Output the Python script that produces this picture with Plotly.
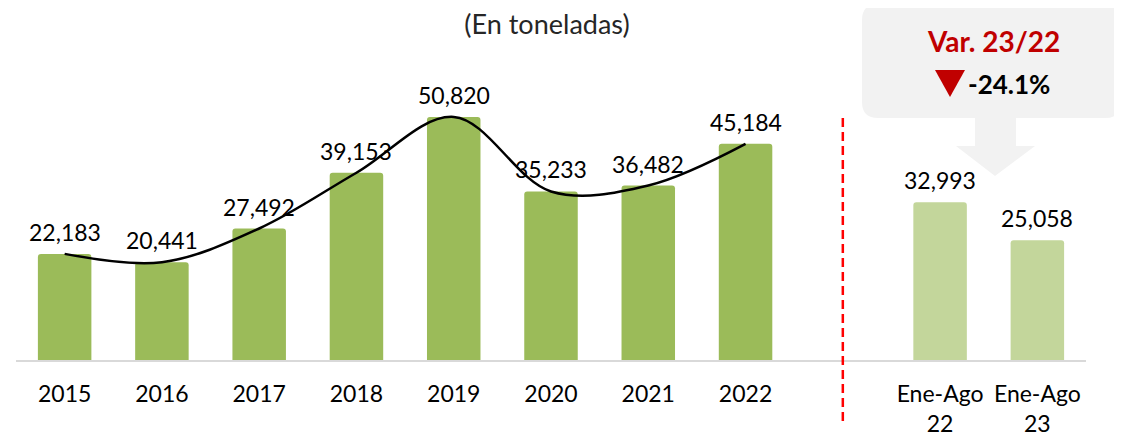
import plotly.graph_objects as go

categories = ["2015", "2016", "2017", "2018", "2019", "2020", "2021", "2022", "Ene-Ago<br>22", "Ene-Ago<br>23"]
values = [22183, 20441, 27492, 39153, 50820, 35233, 36482, 45184, 32993, 25058]
annual_count = 8
positions = [0, 1, 2, 3, 4, 5, 6, 7, 9, 10]
bar_colors = ["#9BBB59"] * 8 + ["#C3D69B"] * 2

FONT = "Lato, Open Sans, sans-serif"
OFF = 8  # page body margin in the browser
W, H = 1122 - OFF, 436 - OFF
# plot area in reference pixel coordinates
L, R, T, B = 16, 1086, 40, 360

fig = go.Figure()
fig.add_trace(go.Bar(
    x=positions, y=values, width=0.55,
    marker=dict(color=bar_colors, line=dict(width=0), cornerradius=3),
    showlegend=False, hoverinfo="skip",
))
fig.add_trace(go.Scatter(
    x=positions[:annual_count], y=values[:annual_count], mode="lines",
    line=dict(color="#000000", width=2.5, shape="spline", smoothing=1.0),
    showlegend=False, hoverinfo="skip",
))

for xp, v in zip(positions, values):
    fig.add_annotation(x=xp, y=v, xref="x", yref="y", text=f"{v:,}", showarrow=False,
                       yanchor="middle", xanchor="center", yshift=22,
                       font=dict(size=23, color="#000000", family=FONT))

def px(x, y):
    return ((x - L) / (R - L), (B - y) / (B - T))

def path_from(points_px):
    s = ""
    for i, (x, y) in enumerate(points_px):
        X, Y = px(x, y)
        s += ("M" if i == 0 else "L") + f" {X:.5f},{Y:.5f} "
    return s + "Z"

# red dashed divider
_, yt = px(0, 118)
_, yb = px(0, 421)
fig.add_shape(type="line", xref="x", yref="paper", x0=8, x1=8, y0=yb, y1=yt,
              line=dict(color="#FF0000", width=2.5, dash="9px,5px"))

# callout box
r = 16
x0b, x1b, y0b, y1b = 862, 1121, 4, 118
X0, Y0 = px(x0b, y0b)
X1, Y1 = px(x1b, y1b)
rx, ry = r / (R - L), r / (B - T)
rect = (f"M {X0+rx:.5f},{Y0:.5f} L {X1-rx:.5f},{Y0:.5f} Q {X1:.5f},{Y0:.5f} {X1:.5f},{Y0-ry:.5f} "
        f"L {X1:.5f},{Y1+ry:.5f} Q {X1:.5f},{Y1:.5f} {X1-rx:.5f},{Y1:.5f} "
        f"L {X0+rx:.5f},{Y1:.5f} Q {X0:.5f},{Y1:.5f} {X0:.5f},{Y1+ry:.5f} "
        f"L {X0:.5f},{Y0-ry:.5f} Q {X0:.5f},{Y0:.5f} {X0+rx:.5f},{Y0:.5f} Z")
fig.add_shape(type="path", xref="paper", yref="paper", path=rect,
              fillcolor="#F2F2F2", line=dict(width=0), layer="below")
arrow = path_from([(975, 117), (1016, 117), (1016, 146), (1035, 146), (995, 176), (956, 146), (975, 146)])
fig.add_shape(type="path", xref="paper", yref="paper", path=arrow,
              fillcolor="#F2F2F2", line=dict(width=0), layer="below")
tri = path_from([(935, 70), (965, 70), (950, 97)])
fig.add_shape(type="path", xref="paper", yref="paper", path=tri,
              fillcolor="#C00000", line=dict(width=0))

ax, ay = px(993, 41)
fig.add_annotation(xref="paper", yref="paper", x=ax, y=ay, text="<b>Var. 23/22</b>", showarrow=False,
                   font=dict(size=28, color="#C00000", family=FONT), xanchor="center", yanchor="middle")
vx, vy = px(1009, 84)
fig.add_annotation(xref="paper", yref="paper", x=vx, y=vy, text="<b>-24.1%</b>", showarrow=False,
                   font=dict(size=26, color="#000000", family=FONT), xanchor="center", yanchor="middle")

fig.update_layout(
    width=W, height=H,
    margin=dict(l=L - OFF, r=W - (R - OFF), t=T - OFF, b=H - (B - OFF), autoexpand=False),
    paper_bgcolor="white", plot_bgcolor="white",
    title=dict(text="(En toneladas)", x=(547 - OFF) / W, xanchor="center", y=1 - (25 - OFF) / H,
               yanchor="middle", font=dict(size=27, color="#262626", family=FONT), automargin=False),
    xaxis=dict(range=[-0.5, 10.5], tickmode="array", tickvals=positions, ticktext=categories,
               showgrid=False, zeroline=False, showline=True, linecolor="#D9D9D9", linewidth=2,
               ticks="", ticklabelstandoff=12, tickfont=dict(size=23, color="#000000", family=FONT),
               automargin=False, fixedrange=True),
    yaxis=dict(range=[0, 66900], visible=False, showgrid=False, zeroline=False, automargin=False),
)

fig.write_html("out.html")
